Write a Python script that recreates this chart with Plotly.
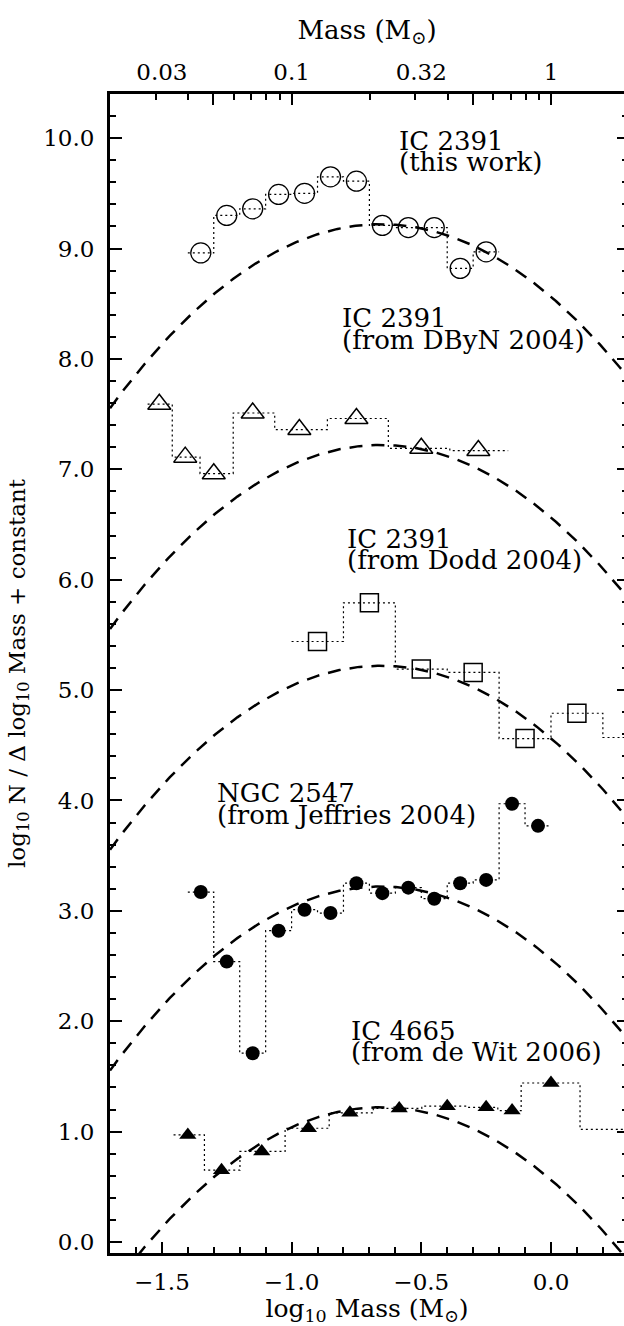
import numpy as np
import plotly.graph_objects as go

# ---------------- data ----------------
# IC 2391 (this work) - open circles
ic_work_x = [-1.35, -1.25, -1.15, -1.05, -0.95, -0.85, -0.75, -0.65, -0.55, -0.45, -0.35, -0.25]
ic_work_y = [8.96, 9.30, 9.36, 9.49, 9.50, 9.65, 9.61, 9.21, 9.19, 9.19, 8.82, 8.97]
ic_work_edges = [-1.40, -1.30, -1.20, -1.10, -1.00, -0.90, -0.80, -0.70, -0.60, -0.50, -0.40, -0.30, -0.20]
ic_work_levels = [8.96, 9.30, 9.36, 9.49, 9.50, 9.65, 9.61, 9.21, 9.19, 9.19, 8.82, 8.97]

# IC 2391 (from DByN 2004) - open triangles
dbyn_x = [-1.51, -1.41, -1.30, -1.15, -0.97, -0.75, -0.50, -0.28]
dbyn_y = [7.59, 7.11, 6.96, 7.51, 7.36, 7.46, 7.19, 7.17]
dbyn_edges = [-1.555, -1.46, -1.353, -1.225, -1.065, -0.862, -0.627, -0.39, -0.165]
dbyn_levels = [7.59, 7.11, 6.96, 7.51, 7.36, 7.46, 7.19, 7.17]

# IC 2391 (from Dodd 2004) - open squares
dodd_x = [-0.90, -0.70, -0.50, -0.30, -0.10, 0.10]
dodd_y = [5.44, 5.79, 5.19, 5.16, 4.56, 4.79]
dodd_edges = [-1.00, -0.80, -0.60, -0.40, -0.20, 0.00, 0.20, 0.40]
dodd_levels = [5.44, 5.79, 5.19, 5.16, 4.56, 4.79, 4.57]

# NGC 2547 (from Jeffries 2004) - filled circles
ngc_x = [-1.35, -1.25, -1.15, -1.05, -0.95, -0.85, -0.75, -0.65, -0.55, -0.45, -0.35, -0.25, -0.15, -0.05]
ngc_y = [3.17, 2.54, 1.71, 2.82, 3.01, 2.98, 3.25, 3.16, 3.21, 3.11, 3.25, 3.28, 3.97, 3.77]
ngc_edges = [-1.40, -1.30, -1.20, -1.10, -1.00, -0.90, -0.80, -0.70, -0.60, -0.50, -0.40, -0.30, -0.20, -0.10, 0.00]
ngc_levels = [3.17, 2.54, 1.71, 2.82, 3.01, 2.98, 3.25, 3.16, 3.21, 3.11, 3.25, 3.28, 3.97, 3.77]

# IC 4665 (from de Wit 2006) - filled triangles
dewit_x = [-1.40, -1.27, -1.115, -0.935, -0.775, -0.585, -0.40, -0.25, -0.15, 0.00]
dewit_y = [0.97, 0.65, 0.82, 1.03, 1.17, 1.21, 1.23, 1.22, 1.19, 1.44]
dewit_edges = [-1.455, -1.336, -1.199, -1.025, -0.855, -0.685, -0.498, -0.325, -0.205, -0.115, 0.112, 0.34]
dewit_levels = [0.97, 0.65, 0.82, 1.03, 1.17, 1.21, 1.23, 1.22, 1.19, 1.44, 1.02]

# log-normal model curves (parabola in log-log): peak heights, centre, curvature
model_peaks = [9.22, 7.22, 5.22, 3.22, 1.22]
model_center = -0.656
model_curv = 1.527

# axis ticks
x_major = [-1.5, -1.0, -0.5, 0.0]
top_labels = ["0.03", "0.1", "0.32", "1"]
top_long_mass = [0.05, 0.1, 0.5, 1.0]
top_short_mass = [0.03, 0.04, 0.06, 0.07, 0.08, 0.09, 0.2, 0.3, 0.4, 0.6, 0.7, 0.8, 0.9]

X_RANGE = [-1.7, 0.2815]
Y_RANGE = [-0.1, 10.4]
FONT = "DejaVu Serif"

labels = [
    ("IC 2391", "(this work)", -0.595, 9.97, 9.78),
    ("IC 2391", "(from DByN 2004)", -0.813, 8.37, 8.17),
    ("IC 2391", "(from Dodd 2004)", -0.794, 6.365, 6.175),
    ("NGC 2547", "(from Jeffries 2004)", -1.295, 4.07, 3.87),
    ("IC 4665", "(from de Wit 2006)", -0.78, 1.915, 1.725),
]


def step_xy(edges, levels):
    xs, ys = [], []
    for i, lv in enumerate(levels):
        xs += [edges[i], edges[i + 1]]
        ys += [lv, lv]
    return xs, ys


fig = go.Figure()
dot_line = dict(color="black", width=1.2, dash="2px,3px")

for edges, levels in [(ic_work_edges, ic_work_levels), (dbyn_edges, dbyn_levels),
                      (dodd_edges, dodd_levels), (ngc_edges, ngc_levels),
                      (dewit_edges, dewit_levels)]:
    sx, sy = step_xy(edges, levels)
    fig.add_trace(go.Scatter(x=sx, y=sy, mode="lines", line=dot_line,
                             showlegend=False, hoverinfo="skip"))

xm = np.linspace(-1.75, 0.35, 300)
for pk in model_peaks:
    fig.add_trace(go.Scatter(x=xm, y=pk - model_curv * (xm - model_center) ** 2,
                             mode="lines", line=dict(color="black", width=2.5, dash="13px,9px"),
                             showlegend=False, hoverinfo="skip"))

fig.add_trace(go.Scatter(x=ic_work_x, y=ic_work_y, mode="markers",
                         marker=dict(symbol="circle-open", size=20, color="black", line=dict(width=1.3)),
                         showlegend=False))
fig.add_trace(go.Scatter(x=dbyn_x, y=dbyn_y, mode="markers",
                         marker=dict(symbol="triangle-up-open", size=20, color="black", line=dict(width=1.5)),
                         showlegend=False))
fig.add_trace(go.Scatter(x=dodd_x, y=dodd_y, mode="markers",
                         marker=dict(symbol="square-open", size=18, color="black", line=dict(width=1.5)),
                         showlegend=False))
fig.add_trace(go.Scatter(x=ngc_x, y=ngc_y, mode="markers",
                         marker=dict(symbol="circle", size=14, color="black"),
                         showlegend=False))
fig.add_trace(go.Scatter(x=dewit_x, y=dewit_y, mode="markers",
                         marker=dict(symbol="triangle-up", size=15, color="black"),
                         showlegend=False))

# invisible anchors so that the extra (top / right) axes are drawn
for xa, ya in [("x2", "y"), ("x3", "y"), ("x", "y2")]:
    fig.add_trace(go.Scatter(x=[X_RANGE[0]], y=[Y_RANGE[0]], xaxis=xa, yaxis=ya, mode="markers",
                             marker=dict(opacity=0), showlegend=False, hoverinfo="skip"))

for l1, l2, lx, ly1, ly2 in labels:
    fig.add_annotation(x=lx, y=ly1, text=l1, showarrow=False, xanchor="left", yanchor="middle",
                       font=dict(family=FONT, size=26, color="black"))
    fig.add_annotation(x=lx, y=ly2, text=l2, showarrow=False, xanchor="left", yanchor="middle",
                       font=dict(family=FONT, size=26, color="black"))

tickfont = dict(family=FONT, size=23, color="black")
fig.update_layout(
    width=624, height=1326,
    margin=dict(l=110, r=0, t=94, b=73),
    paper_bgcolor="white", plot_bgcolor="white",
    font=dict(family=FONT, color="black"),
    xaxis=dict(range=X_RANGE, showgrid=False, zeroline=False, showline=True, linewidth=3,
               linecolor="black", ticks="inside", ticklen=11, tickwidth=2, tickcolor="black",
               tickvals=x_major, tickformat=".1f", tickfont=tickfont, ticklabelstandoff=6,
               minor=dict(dtick=0.1, tick0=0, ticks="inside", ticklen=6, tickwidth=1.5, tickcolor="black"),
               title=dict(text="log<sub>10</sub> Mass (M<sub>⊙</sub>)", font=dict(family=FONT, size=25), standoff=4)),
    xaxis2=dict(range=X_RANGE, overlaying="x", side="top", anchor="y", showgrid=False, zeroline=False,
                showline=True, linewidth=3, linecolor="black", ticks="inside", ticklen=11, tickwidth=2,
                tickcolor="black", tickvals=list(np.log10(top_long_mass)), showticklabels=False,
                minor=dict(tickmode="array", tickvals=list(np.log10(top_short_mass)), ticks="inside",
                           ticklen=6, tickwidth=1.5, tickcolor="black")),
    xaxis3=dict(range=X_RANGE, overlaying="x", side="top", anchor="y", showgrid=False, zeroline=False,
                showline=False, ticks="", tickvals=x_major, ticktext=top_labels, tickfont=tickfont,
                ticklabelstandoff=8,
                title=dict(text="Mass (M<sub>⊙</sub>)", font=dict(family=FONT, size=26), standoff=12)),
    yaxis=dict(range=Y_RANGE, showgrid=False, zeroline=False, showline=True, linewidth=3,
               linecolor="black", ticks="inside", ticklen=12, tickwidth=2, tickcolor="black",
               dtick=1, tick0=0, tickformat=".1f", tickfont=tickfont, ticklabelstandoff=8,
               minor=dict(dtick=0.2, tick0=0, ticks="inside", ticklen=6, tickwidth=1.5, tickcolor="black"),
               title=dict(text="log<sub>10</sub> N / Δ log<sub>10</sub> Mass + constant",
                          font=dict(family=FONT, size=23), standoff=12)),
    yaxis2=dict(range=Y_RANGE, overlaying="y", side="right", anchor="x", showgrid=False, zeroline=False,
                showline=False, ticks="inside", ticklen=7, tickwidth=2, tickcolor="black",
                dtick=1, tick0=0, showticklabels=False,
                minor=dict(dtick=0.2, tick0=0, ticks="inside", ticklen=2, tickwidth=1.5, tickcolor="black")),
)

fig.write_html("out.html")
